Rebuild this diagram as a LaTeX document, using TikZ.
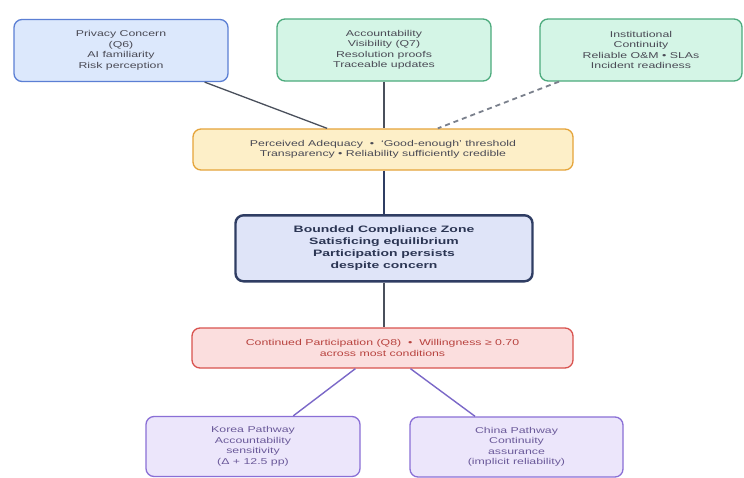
\documentclass[tikz,border=0pt]{standalone}
\usepackage{fontspec}
\newfontfamily\boxfont{Liberation Sans}[FakeStretch=1.45]
\newfontfamily\boldfont{Liberation Sans}[FakeStretch=1.5]
\usetikzlibrary{calc}
\definecolor{privfill}{HTML}{DCE8FC}\definecolor{privdraw}{HTML}{5B7FD4}
\definecolor{accfill}{HTML}{D4F5E6}\definecolor{accdraw}{HTML}{4CAB7D}
\definecolor{adqfill}{HTML}{FDEFC8}\definecolor{adqdraw}{HTML}{E5A43A}
\definecolor{bczfill}{HTML}{DFE4F8}\definecolor{bczdraw}{HTML}{2F3D63}
\definecolor{cpfill}{HTML}{FBDEDE}\definecolor{cpdraw}{HTML}{D9534F}
\definecolor{pathfill}{HTML}{ECE6FB}\definecolor{pathdraw}{HTML}{8A6FD6}
\definecolor{txtgray}{HTML}{4A4A55}\definecolor{txtred}{HTML}{B8433F}
\definecolor{txtpurple}{HTML}{6B5A9A}\definecolor{txtnavy}{HTML}{2B3553}
\definecolor{linegray}{HTML}{4A505C}\definecolor{linepurple}{HTML}{7B68C8}
\definecolor{dashgray}{HTML}{7A808C}
\tikzset{
  box/.style={rounded corners=8pt, line width=1.3pt, align=center, inner sep=0pt,
    font=\boxfont\fontsize{8.5}{10.5}\selectfont, text=txtgray},
  conn/.style={line width=1.3pt, draw=linegray},
}
\begin{document}
\begin{tikzpicture}[x=1pt,y=-1pt]
\useasboundingbox[fill=white] (0,0) rectangle (744,477);
\node[box, fill=privfill, draw=privdraw, minimum width=214pt, minimum height=62pt] (priv) at (121,50.5)
  {Privacy Concern\\(Q6)\\AI familiarity\\Risk perception};
\node[box, fill=accfill, draw=accdraw, minimum width=214pt, minimum height=62pt] (acc) at (384,50)
  {Accountability\\Visibility (Q7)\\Resolution proofs\\Traceable updates};
\node[box, fill=accfill, draw=accdraw, minimum width=202pt, minimum height=62pt] (inst) at (641,50)
  {Institutional\\Continuity\\Reliable O\&M • SLAs\\Incident readiness};
\node[box, fill=adqfill, draw=adqdraw, minimum width=380pt, minimum height=41pt] (adq) at (383,149.5)
  {Perceived Adequacy\ \ •\ \ ‘Good-enough’ threshold\\Transparency • Reliability sufficiently credible};
\node[box, fill=bczfill, draw=bczdraw, line width=2.4pt, minimum width=297pt, minimum height=66pt,
  text=txtnavy, font=\boldfont\bfseries\fontsize{9.3}{12}\selectfont] (bcz) at (384,248.3)
  {Bounded Compliance Zone\\Satisficing equilibrium\\Participation persists\\despite concern};
\node[box, fill=cpfill, draw=cpdraw, minimum width=381pt, minimum height=40pt, text=txtred] (cp) at (382.5,348)
  {Continued Participation (Q8)\ \ •\ \ Willingness ≥ 0.70\\across most conditions};
\node[box, fill=pathfill, draw=pathdraw, minimum width=214pt, minimum height=60pt, text=txtpurple] (kor) at (253,446.5)
  {Korea Pathway\\Accountability\\sensitivity\\(Δ + 12.5 pp)};
\node[box, fill=pathfill, draw=pathdraw, minimum width=213pt, minimum height=60pt, text=txtpurple] (chn) at (516.5,447)
  {China Pathway\\Continuity\\assurance\\(implicit reliability)};
\draw[conn] (priv) -- (adq);
\draw[conn, line width=1.5pt] (acc.south) -- (acc.south |- adq.north);
\draw[conn, dash pattern=on 5pt off 4pt, draw=dashgray, line width=1.8pt] (inst) -- (adq);
\draw[conn, line width=2.1pt, draw=bczdraw] (adq.south -| bcz.north) -- (bcz.north);
\draw[conn, line width=2pt, draw=linegray] (bcz.south) -- (bcz.south |- cp.north);
\draw[conn, draw=linepurple, line width=1.4pt] (cp) -- (kor);
\draw[conn, draw=linepurple, line width=1.4pt] (cp) -- (chn);
\end{tikzpicture}
\end{document}
